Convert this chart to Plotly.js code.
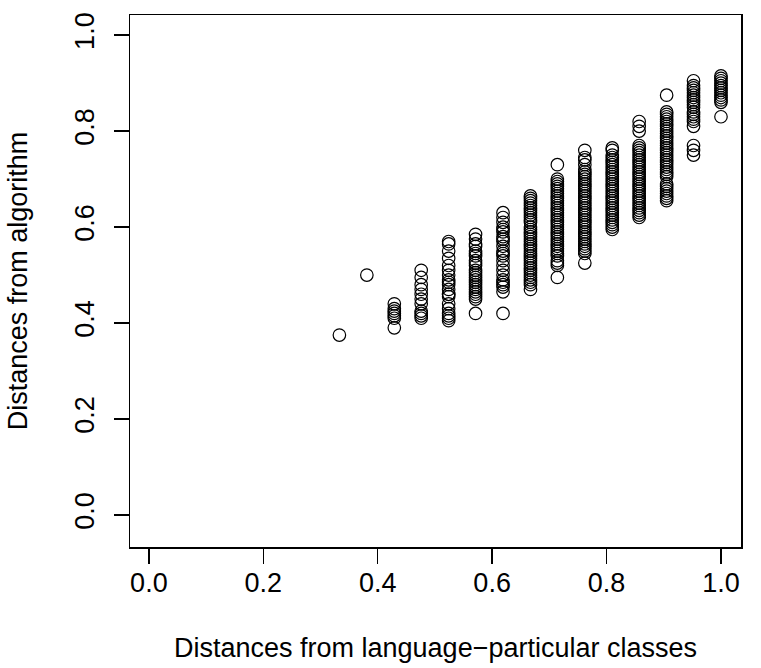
<!DOCTYPE html>
<html>
<head>
<meta charset="utf-8">
<script src="https://cdn.plot.ly/plotly-3.0.1.min.js"></script>
<style>html,body{margin:0;padding:0;background:#fff;}#chart{width:761px;height:668px;}</style>
</head>
<body>
<div id="chart"></div>
<script>
// x positions of the columns (distances from language-particular classes)
var xColumns = [0.333, 0.381, 0.429, 0.476, 0.524, 0.571, 0.619, 0.667, 0.714, 0.762, 0.810, 0.857, 0.905, 0.952, 1.000];

// y values (distances from algorithm) per column
var yCol0333 = [0.375];
var yCol0381 = [0.50];
var yCol0429 = [0.44, 0.43, 0.425, 0.42, 0.415, 0.41, 0.39];
var yCol0476 = [0.51, 0.495, 0.48, 0.47, 0.46, 0.45, 0.44, 0.425, 0.42, 0.415, 0.41];
var yCol0524 = [0.57, 0.565, 0.55, 0.535, 0.52, 0.51, 0.50, 0.49, 0.485, 0.48, 0.47, 0.46, 0.46, 0.455, 0.44, 0.43, 0.42, 0.415, 0.41, 0.405];
var yCol0571 = [0.585, 0.575, 0.565, 0.56, 0.55, 0.545, 0.54, 0.53, 0.525, 0.52, 0.51, 0.505, 0.50, 0.495, 0.49, 0.485, 0.48, 0.475, 0.47, 0.465, 0.46, 0.455, 0.45, 0.42];
var yCol0619 = [0.63, 0.62, 0.61, 0.60, 0.595, 0.59, 0.58, 0.575, 0.57, 0.56, 0.55, 0.545, 0.54, 0.53, 0.52, 0.51, 0.50, 0.49, 0.485, 0.48, 0.475, 0.465, 0.42];
var yCol0667 = [0.665, 0.66, 0.655, 0.65, 0.645, 0.64, 0.635, 0.63, 0.625, 0.62, 0.615, 0.61, 0.60, 0.595, 0.59, 0.585, 0.58, 0.575, 0.57, 0.565, 0.56, 0.555, 0.55, 0.545, 0.54, 0.535, 0.53, 0.525, 0.52, 0.515, 0.51, 0.505, 0.50, 0.495, 0.49, 0.485, 0.48, 0.47];
var yCol0714 = [0.73, 0.70, 0.695, 0.69, 0.685, 0.68, 0.675, 0.67, 0.665, 0.66, 0.655, 0.65, 0.645, 0.64, 0.635, 0.63, 0.625, 0.62, 0.615, 0.61, 0.605, 0.60, 0.595, 0.59, 0.585, 0.58, 0.575, 0.57, 0.565, 0.56, 0.555, 0.55, 0.545, 0.54, 0.53, 0.525, 0.52, 0.495];
var yCol0762 = [0.76, 0.745, 0.74, 0.73, 0.72, 0.715, 0.71, 0.705, 0.70, 0.695, 0.69, 0.685, 0.68, 0.675, 0.67, 0.665, 0.66, 0.655, 0.65, 0.645, 0.64, 0.635, 0.63, 0.625, 0.62, 0.615, 0.61, 0.605, 0.60, 0.595, 0.59, 0.585, 0.58, 0.575, 0.57, 0.565, 0.56, 0.555, 0.55, 0.545, 0.525];
var yCol0810 = [0.765, 0.76, 0.75, 0.745, 0.74, 0.735, 0.73, 0.725, 0.72, 0.715, 0.71, 0.705, 0.70, 0.695, 0.69, 0.685, 0.68, 0.675, 0.67, 0.665, 0.66, 0.655, 0.65, 0.645, 0.64, 0.635, 0.63, 0.625, 0.62, 0.615, 0.61, 0.605, 0.60, 0.595];
var yCol0857 = [0.82, 0.81, 0.80, 0.77, 0.765, 0.76, 0.755, 0.75, 0.745, 0.74, 0.735, 0.73, 0.725, 0.72, 0.715, 0.71, 0.705, 0.70, 0.695, 0.69, 0.685, 0.68, 0.675, 0.67, 0.665, 0.66, 0.655, 0.65, 0.645, 0.64, 0.635, 0.63, 0.625, 0.62];
var yCol0905 = [0.875, 0.84, 0.835, 0.83, 0.825, 0.82, 0.815, 0.81, 0.805, 0.80, 0.795, 0.79, 0.785, 0.78, 0.775, 0.77, 0.765, 0.76, 0.755, 0.75, 0.745, 0.74, 0.735, 0.73, 0.725, 0.72, 0.715, 0.71, 0.705, 0.69, 0.685, 0.68, 0.675, 0.67, 0.665, 0.66, 0.655];
var yCol0952 = [0.905, 0.895, 0.89, 0.885, 0.88, 0.875, 0.87, 0.865, 0.86, 0.855, 0.85, 0.84, 0.835, 0.83, 0.825, 0.82, 0.81, 0.77, 0.76, 0.75];
var yCol1000 = [0.915, 0.91, 0.905, 0.90, 0.895, 0.89, 0.885, 0.88, 0.875, 0.87, 0.865, 0.86, 0.83];

var yColumns = [yCol0333, yCol0381, yCol0429, yCol0476, yCol0524, yCol0571, yCol0619, yCol0667, yCol0714, yCol0762, yCol0810, yCol0857, yCol0905, yCol0952, yCol1000];

var tickVals = [0, 0.2, 0.4, 0.6, 0.8, 1.0];
var tickText = ["0.0", "0.2", "0.4", "0.6", "0.8", "1.0"];
var xTitle = "Distances from language\u2212particular classes";
var yTitle = "Distances from algorithm";

var xs = [], ys = [];
for (var i = 0; i < xColumns.length; i++) {
  for (var j = 0; j < yColumns[i].length; j++) {
    xs.push(xColumns[i]);
    ys.push(yColumns[i][j]);
  }
}

var font = {family: "Liberation Sans, Arial, sans-serif", size: 27, color: "#000"};

var trace = {
  x: xs, y: ys, type: "scatter", mode: "markers",
  marker: {symbol: "circle-open", size: 12.5, color: "#000", line: {width: 1.2, color: "#000"}},
  hoverinfo: "x+y"
};

var axisCommon = {
  autorange: false,
  tickvals: tickVals, ticktext: tickText,
  ticks: "outside", ticklen: 15, tickwidth: 1.5, tickcolor: "#000",
  showline: true, mirror: true, linewidth: 1.5, linecolor: "#000",
  showgrid: false, zeroline: false,
  tickfont: font, automargin: true
};

var layout = {
  width: 761, height: 668,
  margin: {l: 130, r: 20, t: 15, b: 121, autoexpand: false},
  paper_bgcolor: "#fff", plot_bgcolor: "#fff",
  font: font,
  showlegend: false,
  xaxis: Object.assign({}, axisCommon, {
    range: [-0.033, 1.035],
    title: {text: xTitle, font: font, standoff: 41},
    ticklabelstandoff: -4
  }),
  yaxis: Object.assign({}, axisCommon, {
    range: [-0.0667, 1.042],
    tickangle: -90,
    title: {text: yTitle, font: font, standoff: 34},
    ticklabelstandoff: 9
  })
};

Plotly.newPlot("chart", [trace], layout, {displayModeBar: false, staticPlot: true});
</script>
</body>
</html>
